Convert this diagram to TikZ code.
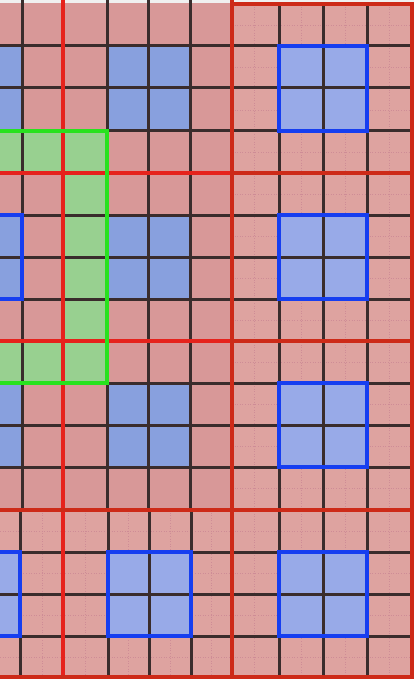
\documentclass[tikz,border=0pt]{standalone}
\definecolor{pinkA}{RGB}{216,152,152}
\definecolor{pinkB}{RGB}{222,163,160}
\definecolor{blueA}{RGB}{136,160,222}
\definecolor{blueB}{RGB}{152,170,232}
\definecolor{greenA}{RGB}{152,208,144}
\definecolor{gridD}{RGB}{58,44,44}
\definecolor{redA}{RGB}{230,34,28}
\definecolor{redB}{RGB}{205,42,24}
\definecolor{greenL}{RGB}{40,226,30}
\definecolor{blueL}{RGB}{22,62,240}
\definecolor{texC}{RGB}{206,140,150}
\tikzset{
  darkline/.style={draw=gridD,line width=3pt},
  redline/.style={draw=redA,line width=4pt},
  redlineB/.style={draw=redB,line width=4pt},
  blueout/.style={draw=blueL,line width=4pt},
  greenout/.style={draw=greenL,line width=4pt,line join=miter},
  texline/.style={draw=texC,line width=0.6pt,dotted},
}
\begin{document}
\begin{tikzpicture}[x=1pt,y=-1pt]
\useasboundingbox (0,0) rectangle (414,679);
% backgrounds
\fill[white!88!gray] (0,0) rectangle (414,679);
\fill[pinkA] (0,3) rectangle (232,510);
\fill[pinkB] (232,3) rectangle (414,679);
\fill[pinkB] (0,510) rectangle (232,679);
% texture in right and bottom regions
\foreach \x in {254,301,345,389} \draw[texline] (\x,4) -- (\x,677);
\foreach \x in {42,85,128,170,211} \draw[texline] (\x,510) -- (\x,677);
\foreach \y in {25,67,110,152,194,236,278,320,362,404,446,488,531,573,615,657} \draw[texline] (232,\y) -- (414,\y);
\foreach \y in {531,573,615,657} \draw[texline] (0,\y) -- (232,\y);
% blue cells left region
\foreach \ya/\yb in {46/131,215/299,383/467}{
  \fill[blueA] (0,\ya) rectangle (22,\yb);
  \fill[blueA] (107,\ya) rectangle (190,\yb);
}
% green cells
\fill[greenA] (0,131) -- (107,131) -- (107,383) -- (0,383) -- (0,341) -- (63,341) -- (63,173) -- (0,173) -- cycle;
% blue cells right region
\foreach \ya/\yb in {46/131,215/299,383/467,552/636}
  \fill[blueB] (279,\ya) rectangle (367,\yb);
% blue cells bottom region
\fill[blueB] (0,552) rectangle (20,636);
\fill[blueB] (108,552) rectangle (191,636);
% dark grid lines
\foreach \x in {22,107,148,190} \draw[darkline] (\x,0) -- (\x,510);
\foreach \x in {20,108,149,191} \draw[darkline] (\x,510) -- (\x,679);
\foreach \x in {279,323,367} \draw[darkline] (\x,4) -- (\x,677);
\foreach \y in {46,88,131,215,257,299,383,425,467,552,594,636} \draw[darkline] (0,\y) -- (414,\y);
% red lines
\draw[redline] (63,0) -- (63,679);
\draw[redline] (0,173) -- (232,173);
\draw[redline] (0,341) -- (232,341);
\draw[redlineB] (0,510) -- (232,510);
\draw[redlineB] (0,677) -- (232,677);
\draw[redlineB] (232,0) -- (232,679);
\draw[redlineB] (232,4) -- (412,4) -- (412,677) -- (232,677);
\draw[redlineB] (232,173) -- (412,173);
\draw[redlineB] (232,341) -- (412,341);
\draw[redlineB] (232,510) -- (412,510);
% blue outlines
\foreach \ya/\yb in {46/131,215/299,383/467,552/636}
  \draw[blueout] (279,\ya) rectangle (367,\yb);
\draw[blueout] (108,552) rectangle (191,636);
\draw[blueout] (0,552) -- (20,552) -- (20,636) -- (0,636);
\draw[blueout] (0,215) -- (22,215) -- (22,299) -- (0,299);
% green outline
\draw[greenout] (0,131) -- (107,131) -- (107,383) -- (0,383);
\end{tikzpicture}
\end{document}
